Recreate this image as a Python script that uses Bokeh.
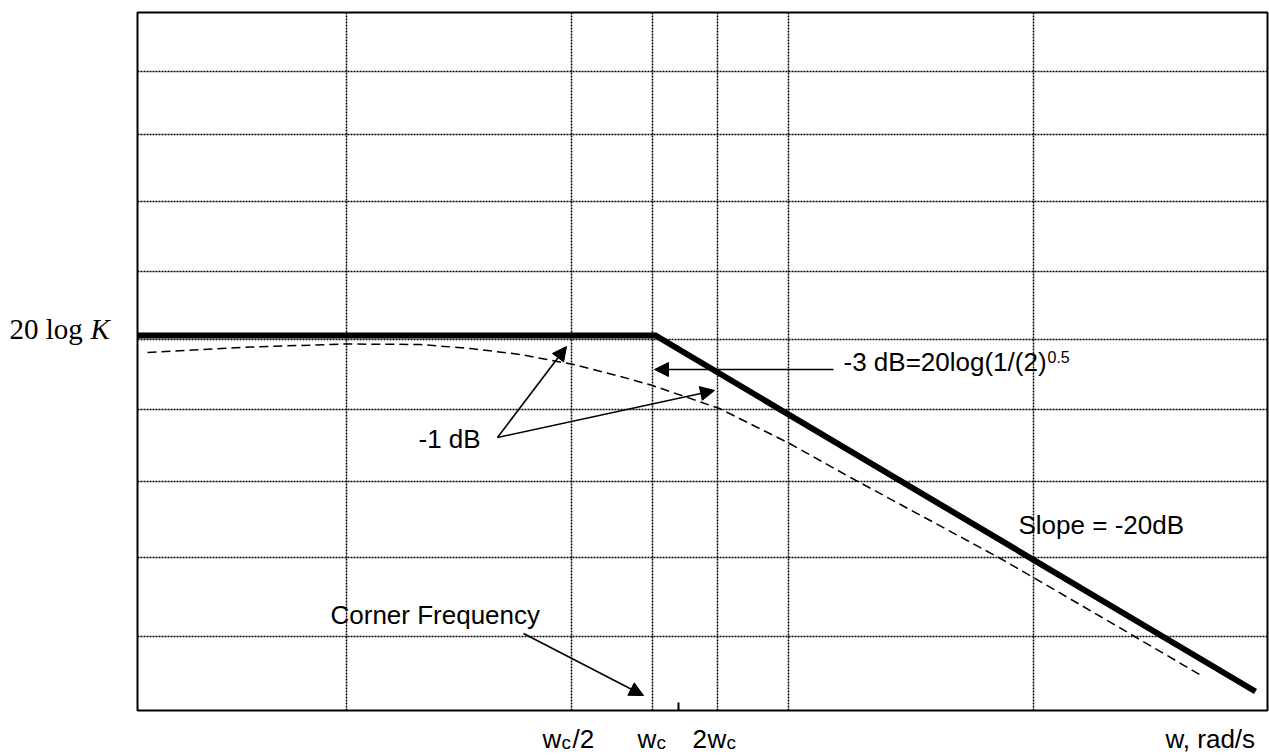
from bokeh.plotting import figure
from bokeh.models import Range1d, Label, Arrow, NormalHead
from bokeh.embed import file_html
from bokeh.resources import INLINE

# ---- data (drawing coordinates) ----
box_x = [137, 1267]          # plot box left / right
box_y = [12, 710]            # plot box top / bottom

grid_x = [346, 571, 652, 717, 788, 1033]
grid_y = [71, 134, 201, 271, 339, 409, 481, 557, 636]

# straight-line (asymptotic) magnitude
asym_x = [137, 655, 1255]
asym_y = [335, 335, 691]

# actual (dashed) magnitude curve
curve_x = [147, 250, 346, 420, 470, 520, 573, 620, 652, 719, 789, 850, 900, 1000, 1100, 1199]
curve_y = [352, 346.5, 343.5, 344, 348, 354, 364, 376, 385, 408, 443, 477, 504, 558, 616, 674]

# small tick on the frequency axis
tick_x = [678]
tick_y0 = [702]
tick_y1 = [710]

# annotation arrows: (x_start, y_start, x_end, y_end)
arrows = [
    (497, 437, 566, 346),   # -1 dB -> w_c/2
    (497, 437, 714, 390),   # -1 dB -> 2 w_c
    (833, 369, 654, 369),   # -3 dB -> w_c
    (523, 633, 643, 695),   # Corner Frequency
]

# texts: (text, x, y, size, font, style)
texts = [
    ("20 log", 9, 328, "29px", "Liberation Serif", "normal"),
    ("K", 90, 328, "29px", "Liberation Serif", "italic"),
    ("-1 dB", 418, 438, "26px", "Liberation Sans", "normal"),
    ("-3 dB=20log(1/(2)", 843, 361, "26px", "Liberation Sans", "normal"),
    ("0.5", 1047, 356, "16px", "Liberation Sans", "normal"),
    ("Slope = -20dB", 1018, 524, "26px", "Liberation Sans", "normal"),
    ("Corner Frequency", 330, 614, "26px", "Liberation Sans", "normal"),
    ("w", 542, 738, "26px", "Liberation Sans", "normal"),
    ("c", 561, 742, "19px", "Liberation Sans", "normal"),
    ("/2", 572, 738, "26px", "Liberation Sans", "normal"),
    ("w", 637, 738, "26px", "Liberation Sans", "normal"),
    ("c", 656, 742, "19px", "Liberation Sans", "normal"),
    ("2", 692, 738, "26px", "Liberation Sans", "normal"),
    ("w", 707, 738, "26px", "Liberation Sans", "normal"),
    ("c", 726, 742, "19px", "Liberation Sans", "normal"),
    ("w, rad/s", 1165, 738, "26px", "Liberation Sans", "normal"),
]

p = figure(width=1269, height=756, output_backend="svg", toolbar_location=None,
           x_range=Range1d(0, 1269), y_range=Range1d(756, 0),
           x_axis_location=None, y_axis_location=None, min_border=0)
p.background_fill_color = "white"
p.border_fill_color = "white"
p.outline_line_color = None
p.grid.visible = False

# dotted grid lines inside the box
p.segment(x0=grid_x, y0=[box_y[0]] * len(grid_x), x1=grid_x, y1=[box_y[1]] * len(grid_x),
          line_color="black", line_width=1.5, line_dash="2 1")
p.segment(x0=[box_x[0]] * len(grid_y), y0=grid_y, x1=[box_x[1]] * len(grid_y), y1=grid_y,
          line_color="black", line_width=1.5, line_dash="2 1")

# plot box
p.quad(left=[box_x[0]], right=[box_x[1]], top=[box_y[0]], bottom=[box_y[1]],
       fill_color=None, line_color="black", line_width=2)

p.line(curve_x, curve_y, line_color="black", line_width=1.5, line_dash="9 5")
p.line(asym_x, asym_y, line_color="black", line_width=6, line_join="miter")
p.segment(x0=tick_x, y0=tick_y0, x1=tick_x, y1=tick_y1, line_color="black", line_width=2)

for xs, ys, xe, ye in arrows:
    p.add_layout(Arrow(x_start=xs, y_start=ys, x_end=xe, y_end=ye, line_width=1.6,
                       line_color="black",
                       end=NormalHead(size=14, fill_color="black", line_color="black", line_width=1)))

for t, x, y, size, font, style in texts:
    p.add_layout(Label(x=x, y=y, text=t, text_font=font, text_font_size=size,
                       text_font_style=style, text_color="black",
                       text_baseline="alphabetic", text_align="left"))

open("out.html", "w").write(file_html(p, INLINE))
